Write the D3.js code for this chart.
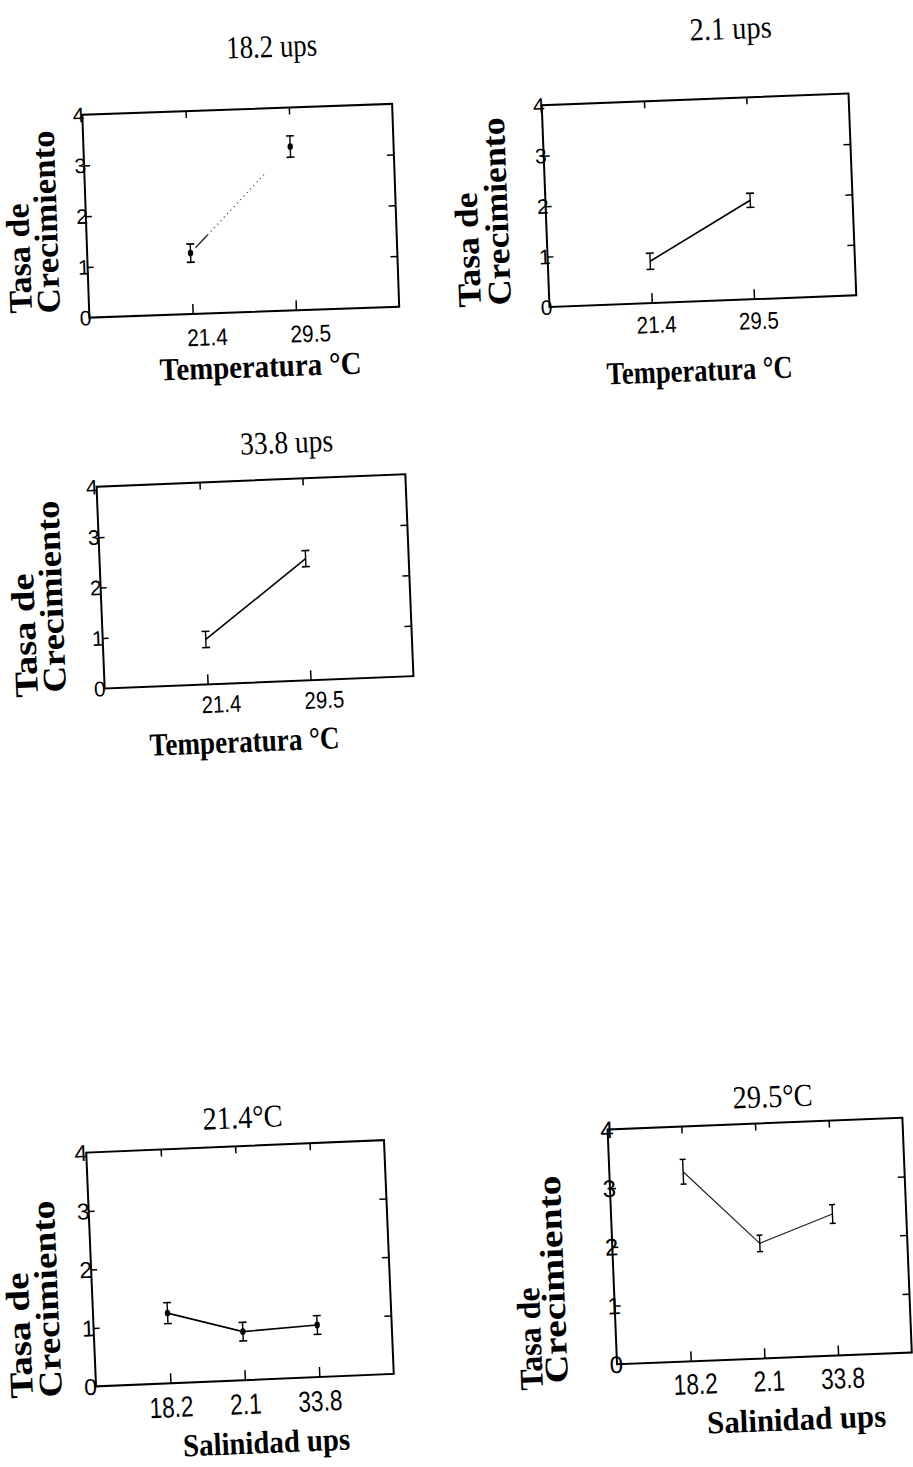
<!DOCTYPE html>
<html>
<head>
<meta charset="utf-8">
<script src="https://cdn.jsdelivr.net/npm/d3@7"></script>
<style>
  html, body { margin: 0; padding: 0; background: #fff; }
  svg { display: block; }
</style>
</head>
<body>
<svg id="fig" width="913" height="1467"></svg>
<script>
// Tasa de crecimiento por temperatura y salinidad

const temperatures = ["21.4", "29.5"];
const salinities = ["18.2", "2.1", "33.8"];

// mean growth rate for each salinity, ordered by temperature (21.4, 29.5)
const growth_18_2 = [1.20, 3.23];
const growth_2_1  = [0.83, 1.96];
const growth_33_8 = [0.89, 2.41];

// error bar half-lengths, same order
const err_18_2 = [0.18, 0.21];
const err_2_1  = [0.16, 0.14];
const err_33_8 = [0.16, 0.16];

const yTickValues = [0, 1, 2, 3, 4];
const yDomain = [0, 4];

// ---- series per panel ----
const bySalinity = [growth_18_2, growth_2_1, growth_33_8];
const errBySalinity = [err_18_2, err_2_1, err_33_8];

function seriesAtSalinity(i) {
  return temperatures.map((t, j) => ({ cat: t, mean: bySalinity[i][j], err: errBySalinity[i][j] }));
}
function seriesAtTemperature(j) {
  return salinities.map((s, i) => ({ cat: s, mean: bySalinity[i][j], err: errBySalinity[i][j] }));
}

const serif = "'Liberation Serif','Times New Roman',serif";
const sans = "'Liberation Sans',Arial,sans-serif";

const panels = [
  { title: "18.2 ups", xTitle: "Temperatura °C", cats: temperatures, data: seriesAtSalinity(0),
    cx: 240.75, cy: 210.75, w: 310, h: 203, angle: -2.0,
    titleAt: [272, 57, 91], xTitleAt: [261, 377, 202],
    yTitleAt: [[32, 313, 110], [60, 313, 183]],
    tickFont: 24, tickSx: 0.87, tickDx: 14, tickBase: 32, yFont: 21, yDx: 2,
    dots: true, lineStyle: "dotted", lineW: 1.2, capW: 8 },
  { title: "2.1 ups", xTitle: "Temperatura °C", cats: temperatures, data: seriesAtSalinity(1),
    cx: 699, cy: 200.25, w: 307, h: 202, angle: -2.2,
    titleAt: [731, 39, 82], xTitleAt: [700, 381, 186],
    yTitleAt: [[481, 307, 115], [511, 305, 188]],
    tickFont: 24, tickSx: 0.85, tickDx: 4, tickBase: 30, yFont: 21, yDx: 3,
    dots: false, lineStyle: "solid", lineW: 1.6, capW: 8 },
  { title: "33.8 ups", xTitle: "Temperatura °C", cats: temperatures, data: seriesAtSalinity(2),
    cx: 255, cy: 581.4, w: 309, h: 202, angle: -2.3,
    titleAt: [287, 453, 93], xTitleAt: [245, 752, 190],
    yTitleAt: [[38, 697, 124], [66, 692, 192]],
    tickFont: 24, tickSx: 0.85, tickDx: 13, tickBase: 28.5, yFont: 21, yDx: 1,
    dots: false, lineStyle: "solid", lineW: 1.6, capW: 8 },
  { title: "21.4°C", xTitle: "Salinidad ups", cats: salinities, data: seriesAtTemperature(0),
    cx: 240, cy: 1263.25, w: 298, h: 234, angle: -2.4,
    titleAt: [243, 1128, 80], xTitleAt: [267, 1453, 167],
    yTitleAt: [[33, 1398, 126], [62, 1397, 197]],
    tickFont: 29, tickSx: 0.78, tickDx: 0, tickBase: 34, yFont: 23, yDx: 1,
    dots: true, lineStyle: "solid", lineW: 1.6, capW: 8 },
  { title: "29.5°C", xTitle: "Salinidad ups", cats: salinities, data: seriesAtTemperature(1),
    cx: 759.7, cy: 1241, w: 295, h: 235, angle: -2.3,
    titleAt: [773, 1107, 80], xTitleAt: [797, 1430, 179],
    yTitleAt: [[543, 1390, 103], [568, 1383, 208]],
    tickFont: 29, tickSx: 0.78, tickDx: 4, tickBase: 33, yFont: 24, yDx: 6,
    dots: false, lineStyle: "solid", lineW: 1.2, capW: 6 }
];

const svg = d3.select("#fig");

function label(x, y, rot, str, o) {
  const t = svg.append("text")
    .attr("transform", `translate(${x},${y}) rotate(${rot})`)
    .attr("text-anchor", o.anchor || "middle")
    .attr("font-family", o.family || serif)
    .attr("font-size", o.size)
    .attr("font-weight", o.weight || "normal")
    .attr("fill", "#000")
    .text(str);
  if (o.len) t.attr("textLength", o.len).attr("lengthAdjust", "spacingAndGlyphs");
  return t;
}

panels.forEach(p => {
  const g = svg.append("g")
    .attr("transform", `translate(${p.cx},${p.cy}) rotate(${p.angle}) translate(${-p.w / 2},${-p.h / 2})`);

  const x = d3.scalePoint().domain(p.cats).range([0, p.w]).padding(1);
  const y = d3.scaleLinear().domain(yDomain).range([p.h, 0]);

  // inward ticks on all four sides
  g.append("g").attr("transform", `translate(0,${p.h})`)
    .call(d3.axisBottom(x).tickSize(-10).tickSizeOuter(0).tickFormat(""));
  g.append("g")
    .call(d3.axisTop(x).tickSize(-7).tickSizeOuter(0).tickFormat(""));
  g.append("g")
    .call(d3.axisLeft(y).tickValues(yTickValues.slice(1, -1)).tickSize(-6).tickSizeOuter(0).tickFormat(""));
  g.append("g").attr("transform", `translate(${p.w},0)`)
    .call(d3.axisRight(y).tickValues(yTickValues.slice(1, -1)).tickSize(-7).tickSizeOuter(0).tickFormat(""));
  g.selectAll(".domain").remove();
  g.selectAll(".tick line").attr("stroke", "#000").attr("stroke-width", 1.5);

  // frame
  g.append("rect")
    .attr("width", p.w).attr("height", p.h)
    .attr("fill", "none").attr("stroke", "#000").attr("stroke-width", 2);

  // x tick labels
  g.selectAll("text.xt").data(p.cats).join("text")
    .attr("class", "xt")
    .attr("transform", d => `translate(${x(d) + p.tickDx},${p.h + p.tickBase}) scale(${p.tickSx},1)`)
    .attr("text-anchor", "middle")
    .attr("font-family", sans)
    .attr("font-size", p.tickFont)
    .attr("fill", "#000")
    .text(d => d);

  // y tick labels
  g.selectAll("text.yt").data(yTickValues).join("text")
    .attr("class", "yt")
    .attr("x", p.yDx)
    .attr("y", d => y(d))
    .attr("dy", "0.36em")
    .attr("text-anchor", "end")
    .attr("font-family", sans)
    .attr("font-size", p.yFont)
    .attr("fill", "#000")
    .text(d => d);

  // connecting line
  const pts = p.data.map(d => [x(d.cat), y(d.mean)]);
  if (p.lineStyle === "dotted") {
    const a = pts[0], b = pts[1];
    const at = t => [a[0] + (b[0] - a[0]) * t, a[1] + (b[1] - a[1]) * t];
    g.append("path")
      .attr("d", d3.line()([at(0.05), at(0.17)]))
      .attr("stroke", "#222").attr("stroke-width", 1.3).attr("fill", "none");
    g.append("path")
      .attr("d", d3.line()([at(0.17), at(0.74)]))
      .attr("stroke", "#444").attr("stroke-width", 1.2)
      .attr("stroke-dasharray", "1.2,3.6").attr("fill", "none");
  } else {
    g.append("path")
      .attr("d", d3.line()(pts))
      .attr("stroke", p.lineW < 1.4 ? "#222" : "#000")
      .attr("stroke-width", p.lineW).attr("fill", "none");
  }

  // error bars
  const eb = g.selectAll("g.eb").data(p.data).join("g").attr("class", "eb");
  eb.append("line")
    .attr("x1", d => x(d.cat)).attr("x2", d => x(d.cat))
    .attr("y1", d => y(d.mean - d.err)).attr("y2", d => y(d.mean + d.err))
    .attr("stroke", "#000").attr("stroke-width", 1.4);
  [-1, 1].forEach(s => {
    eb.append("line")
      .attr("x1", d => x(d.cat) - p.capW / 2).attr("x2", d => x(d.cat) + p.capW / 2)
      .attr("y1", d => y(d.mean + s * d.err)).attr("y2", d => y(d.mean + s * d.err))
      .attr("stroke", "#000").attr("stroke-width", 1.6);
  });
  if (p.dots) {
    eb.append("ellipse")
      .attr("cx", d => x(d.cat)).attr("cy", d => y(d.mean))
      .attr("rx", 2.7).attr("ry", 3.4).attr("fill", "#000");
  }

  // titles and axis labels
  const r = p.angle;
  label(p.titleAt[0], p.titleAt[1], r, p.title, { size: 32, len: p.titleAt[2] });
  label(p.xTitleAt[0], p.xTitleAt[1], r, p.xTitle, { size: 32, weight: "bold", len: p.xTitleAt[2] });
  label(p.yTitleAt[0][0], p.yTitleAt[0][1], r - 90, "Tasa de",
    { size: 33, weight: "bold", anchor: "start", len: p.yTitleAt[0][2] });
  label(p.yTitleAt[1][0], p.yTitleAt[1][1], r - 90, "Crecimiento",
    { size: 33, weight: "bold", anchor: "start", len: p.yTitleAt[1][2] });
});
</script>
</body>
</html>
